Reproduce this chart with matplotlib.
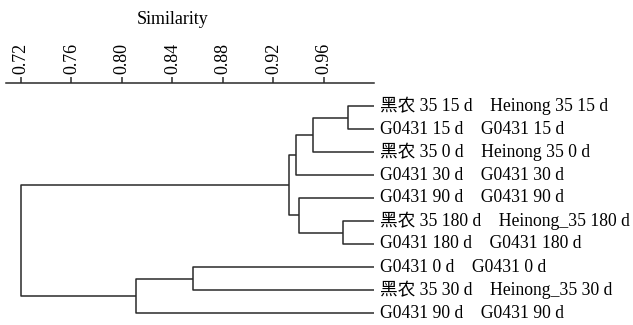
import matplotlib
matplotlib.use("Agg")
import matplotlib.pyplot as plt

#---------------------------- data ----------------------------
labels = ["黑农 35 15 d    Heinong 35 15 d",
          "G0431 15 d    G0431 15 d",
          "黑农 35 0 d    Heinong 35 0 d",
          "G0431 30 d    G0431 30 d",
          "G0431 90 d    G0431 90 d",
          "黑农 35 180 d    Heinong_35 180 d",
          "G0431 180 d    G0431 180 d",
          "G0431 0 d    G0431 0 d",
          "黑农 35 30 d    Heinong_35 30 d",
          "G0431 90 d    G0431 90 d"]

# merges: (left node, right node, similarity); leaves are 0..9, new nodes 10..
merges = [(0, 1, 0.979),
          (10, 2, 0.951),
          (11, 3, 0.938),
          (5, 6, 0.975),
          (4, 13, 0.940),
          (12, 14, 0.9325),
          (7, 8, 0.8565),
          (16, 9, 0.811),
          (15, 17, 0.720)]

ticks = [0.72, 0.76, 0.80, 0.84, 0.88, 0.92, 0.96]
leaf_sim = 1.0

#---------------------------- figure ----------------------------
plt.rcParams['font.family'] = ['Liberation Serif', 'Noto Sans CJK SC']
plt.rcParams['font.size'] = 13

fig = plt.figure(figsize=(6.33, 3.25), dpi=100)
ax = fig.add_axes([0, 0, 1, 1 - 82.7 / 325])

col = '#2a2a2a'
lw = 1.1

# node positions
pos = {i: (leaf_sim, i) for i in range(len(labels))}
n = len(labels)
for a, b, h in merges:
    xa, ya = pos[a]
    xb, yb = pos[b]
    ax.plot([xa, h, h, xb], [ya, ya, yb, yb], color=col, lw=lw, solid_capstyle='butt')
    pos[n] = (h, (ya + yb) / 2)
    n += 1

for i, lab in enumerate(labels):
    ax.text(leaf_sim + 0.004, i, lab, va='center', ha='left', fontsize=12.7)

ax.set_xlim(0.70337, 1.20475)
ax.set_ylim((325 - 106) / 23, (82.7 - 106) / 23)

# scale on top
for s in ['left', 'right', 'bottom']:
    ax.spines[s].set_visible(False)
ax.spines['top'].set_bounds(0.708, 1.0)
ax.spines['top'].set_color(col)
ax.spines['top'].set_linewidth(lw)
ax.xaxis.set_ticks_position('top')
ax.set_xticks(ticks)
ax.set_xticklabels(["%.2f" % t for t in ticks], rotation=90)
ax.tick_params(axis='x', direction='out', length=4, width=lw, color=col, pad=2.5, labelsize=13)
ax.set_yticks([])

fig.text(173 / 633, 1 - 20 / 325, "Similarity", ha='center', va='center', fontsize=13)

fig.savefig("out.png", dpi=100)
